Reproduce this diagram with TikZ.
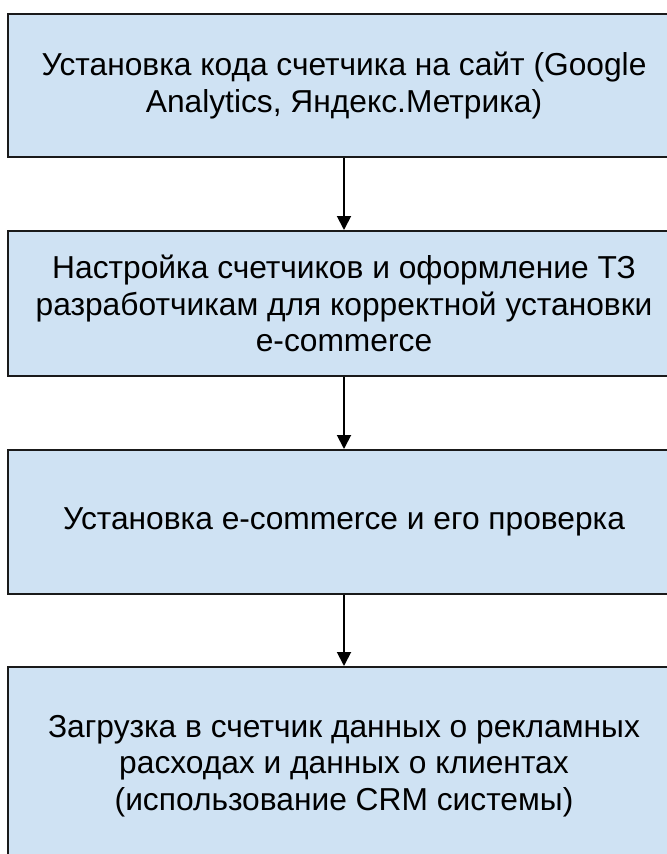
\documentclass[tikz,border=0pt]{standalone}
\usepackage{fontspec}
\setmainfont{Liberation Sans}
\usetikzlibrary{arrows.meta}
\definecolor{boxfill}{RGB}{207,226,243}
\definecolor{boxline}{RGB}{26,26,26}
\begin{document}
\begin{tikzpicture}[x=0.75pt,y=-0.75pt,
  stepbox/.style={draw=boxline,fill=boxfill,line width=1.5pt,
    minimum width=504pt,align=center,inner sep=0pt,
    font=\fontsize{23.8}{27.2}\selectfont},
  conn/.style={line width=1.4pt,draw=black,-{Triangle[length=10.5pt,width=10.5pt]}}]
\useasboundingbox (0,0) rectangle (667,854);
\clip (0,0) rectangle (667,854);
\node[stepbox,minimum height=107.25pt] (b1) at (344,85.5)
  {Установка кода счетчика на сайт (Google\\Analytics, Яндекс.Метрика)};
\node[stepbox,minimum height=108.75pt] (b2) at (344,303.5)
  {Настройка счетчиков и оформление ТЗ\\разработчикам для корректной установки\\e-commerce};
\node[stepbox,minimum height=108pt] (b3) at (344,522)
  {Установка e-commerce и его проверка};
\node[stepbox,minimum height=148.5pt] (b4) at (344,766)
  {Загрузка в счетчик данных о рекламных\\расходах и данных о клиентах\\(использование CRM системы)};
\draw[conn] (b1.south) -- (b2.north);
\draw[conn] (b2.south) -- (b3.north);
\draw[conn] (b3.south) -- (b4.north);
\end{tikzpicture}
\end{document}
